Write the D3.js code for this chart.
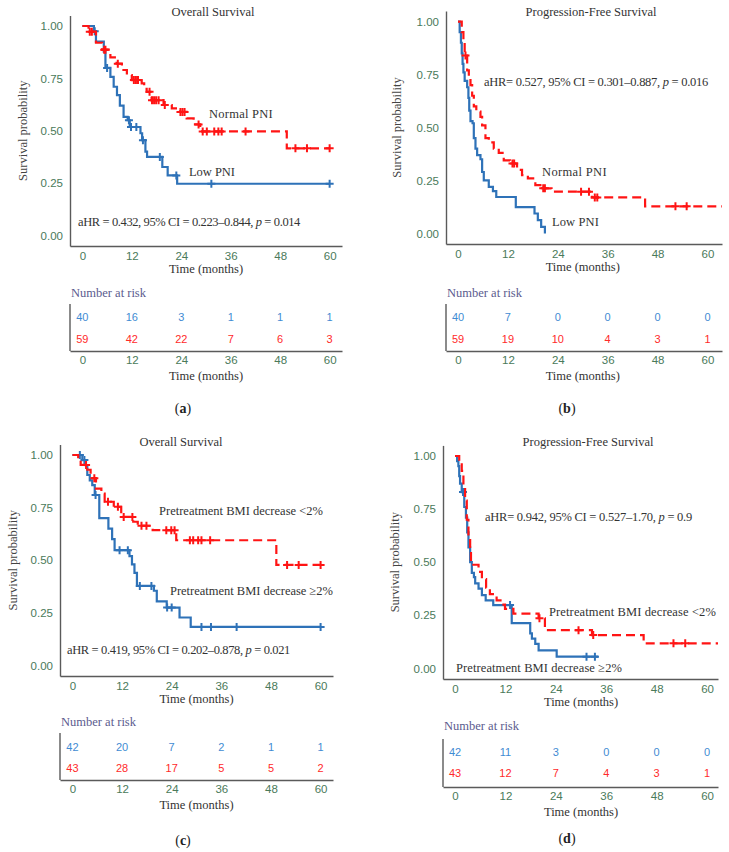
<!DOCTYPE html>
<html><head><meta charset="utf-8">
<script src="https://cdn.jsdelivr.net/npm/d3@7"></script>
<style>body{margin:0;background:#fff} svg{display:block}</style>
</head><body>
<svg id="chart" width="729" height="852"></svg>
<script>
// ---------- shared ticks ----------
const timeTicks = [0, 12, 24, 36, 48, 60];
const survTicks = [0, 0.25, 0.5, 0.75, 1];

// ---------- (a) Overall survival by PNI ----------
const aLowT = [2.8, 3.3, 5.2, 5.6, 6.8, 7.6, 8.4, 9.1, 10.0, 11.0, 11.5, 14.1, 14.5, 15.3, 15.7, 19.4, 20.7, 23.0];
const aLowS = [0.975, 0.925, 0.877, 0.80, 0.757, 0.71, 0.67, 0.62, 0.566, 0.55, 0.518, 0.488, 0.455, 0.40, 0.375, 0.327, 0.287, 0.247];
const aLowCens = [3.0, 6.0, 11.3, 11.8, 13.1, 14.7, 18.8, 22.8, 31.3, 60];
const aNormT = [1.5, 3.3, 4.8, 6.8, 8.3, 9.6, 10.8, 12.0, 14.4, 15.0, 15.6, 16.8, 19.7, 21.7, 23.7, 25.3, 27.0, 28.6, 49.6];
const aNormS = [0.973, 0.92, 0.887, 0.85, 0.82, 0.79, 0.766, 0.742, 0.726, 0.70, 0.686, 0.646, 0.623, 0.607, 0.59, 0.559, 0.53, 0.497, 0.416];
const aNormCens = [1.8, 2.3, 5.3, 5.6, 8.6, 12.5, 13.0, 13.5, 16.3, 16.9, 17.4, 17.9, 18.5, 20.0, 23.8, 24.3, 24.8, 28.2, 29.2, 30.2, 32.0, 33.0, 33.8, 39.6, 51.7, 54.5, 60];
const aRiskLow = [40, 16, 3, 1, 1, 1];
const aRiskNorm = [59, 42, 22, 7, 6, 3];

// ---------- (b) Progression-free survival by PNI ----------
const bLowT = [0.4, 0.7, 0.9, 1.1, 1.3, 1.6, 2.2, 2.5, 2.7, 3.0, 3.5, 3.8, 4.2, 4.6, 5.4, 5.8, 6.2, 7.4, 8.4, 9.2, 13.9, 18.4, 19.2, 20.0, 20.9];
const bLowS = [0.95, 0.90, 0.85, 0.80, 0.76, 0.72, 0.69, 0.64, 0.58, 0.53, 0.52, 0.45, 0.40, 0.37, 0.35, 0.29, 0.25, 0.22, 0.20, 0.172, 0.124, 0.094, 0.063, 0.031, 0];
const bLowCens = [];
const bNormT = [0.9, 1.3, 1.6, 2.2, 2.6, 3.0, 3.4, 3.8, 4.4, 5.4, 5.8, 6.6, 7.4, 8.6, 9.8, 11.0, 12.5, 14.2, 15.4, 16.8, 18.6, 20.1, 22.5, 32.2, 45.0];
const bNormS = [0.95, 0.90, 0.84, 0.77, 0.74, 0.70, 0.65, 0.60, 0.575, 0.55, 0.51, 0.45, 0.43, 0.40, 0.38, 0.345, 0.33, 0.30, 0.275, 0.26, 0.228, 0.213, 0.197, 0.17, 0.128];
const bNormCens = [1.8, 13.1, 13.5, 20.5, 20.9, 29.6, 31.5, 32.9, 33.5, 52.3, 55.0];
const bRiskLow = [40, 7, 0, 0, 0, 0];
const bRiskNorm = [59, 19, 10, 4, 3, 1];

// ---------- (c) Overall survival by pretreatment BMI decrease ----------
const cHighT = [2.4, 3.2, 3.6, 4.2, 4.8, 5.4, 6.5, 8.7, 9.6, 10.2, 13.8, 14.4, 15.0, 15.6, 19.7, 20.4, 22.8, 25.9, 28.6];
const cHighS = [0.976, 0.952, 0.905, 0.88, 0.857, 0.81, 0.70, 0.65, 0.60, 0.548, 0.52, 0.48, 0.44, 0.378, 0.355, 0.305, 0.275, 0.228, 0.183];
const cHighCens = [1.8, 2.9, 5.6, 11.4, 13.4, 16.3, 19.1, 22.9, 24.0, 31.2, 33.5, 39.7, 60];
const cLowT = [1.4, 2.0, 3.6, 4.4, 5.7, 7.0, 7.8, 10.0, 11.8, 14.7, 15.8, 19.4, 25.1, 49.3];
const cLowS = [0.977, 0.953, 0.93, 0.89, 0.84, 0.817, 0.778, 0.754, 0.706, 0.683, 0.664, 0.643, 0.595, 0.478];
const cLowCens = [3.3, 5.3, 8.6, 11.0, 12.4, 14.5, 16.7, 17.9, 22.7, 23.9, 24.7, 28.4, 29.2, 30.4, 31.2, 33.3, 51.9, 54.7, 60];
const cRiskHigh = [42, 20, 7, 2, 1, 1];
const cRiskLow = [43, 28, 17, 5, 5, 2];

// ---------- (d) Progression-free survival by pretreatment BMI decrease ----------
const dHighT = [0.5, 0.8, 1.0, 1.2, 1.6, 2.2, 2.6, 2.9, 3.2, 3.6, 4.0, 4.5, 4.8, 5.6, 6.4, 7.3, 9.1, 13.5, 17.9, 18.3, 19.1, 19.9, 24.2];
const dHighS = [0.976, 0.952, 0.905, 0.87, 0.83, 0.76, 0.71, 0.64, 0.57, 0.50, 0.45, 0.43, 0.40, 0.376, 0.345, 0.32, 0.298, 0.213, 0.165, 0.14, 0.115, 0.085, 0.055];
const dHighCens = [1.9, 13.1, 31.3, 33.3];
const dLowT = [1.0, 1.6, 2.0, 2.4, 2.8, 3.2, 3.6, 3.8, 5.6, 6.4, 7.4, 8.3, 9.9, 11.1, 11.9, 13.9, 19.9, 21.4, 32.6, 44.9];
const dLowS = [0.977, 0.93, 0.86, 0.79, 0.70, 0.62, 0.56, 0.488, 0.454, 0.42, 0.38, 0.35, 0.32, 0.30, 0.28, 0.258, 0.236, 0.18, 0.157, 0.118];
const dLowCens = [20.1, 29.4, 32.9, 52.0, 54.8];
const dRiskHigh = [42, 11, 3, 0, 0, 0];
const dRiskLow = [43, 12, 7, 4, 3, 1];

// ---------- styling ----------
const BLUE = "#2e72b8", RED = "#ff1414";
const RISK_BLUE = "#3f8bd3", RISK_RED = "#ff2a2a";
const TICK_COL = "#4a7a5a", AXIS_COL = "#5a5a5a";
const SERIF = "'Liberation Serif','DejaVu Serif',serif";
const SANS = "'Liberation Sans',Arial,sans-serif";

const panels = [
  { letter: "a", title: "Overall Survival", titleX: 213, titleY: 12,
    left: 70, right: 342, top: 15.5, bottom: 246, xDom: [-3, 63], ylabX: 23,
    series: [
      { t: aLowT, s: aLowS, cens: aLowCens, end: 60, col: BLUE, dash: null },
      { t: aNormT, s: aNormS, cens: aNormCens, end: 60, col: RED, dash: "9,5" } ],
    risk: [aRiskLow, aRiskNorm], narY: 293, rTop: 304, rBot: 351, row1: 317, row2: 339, letX: 183, letY: 408,
    notes: [ { x: 209, y: 114, w: 64, txt: ["Normal PNI"] }, { x: 189, y: 172, w: 46, txt: ["Low PNI"] },
             { x: 78, y: 222, w: 222, txt: ["aHR = 0.432, 95% CI = 0.223–0.844, ", "p", " = 0.014"] } ] },
  { letter: "b", title: "Progression-Free Survival", titleX: 591, titleY: 12,
    left: 446, right: 722, top: 11, bottom: 244, xDom: [-2.89, 63.5], ylabX: 397,
    series: [
      { t: bLowT, s: bLowS, cens: bLowCens, end: 20.9, col: BLUE, dash: null },
      { t: bNormT, s: bNormS, cens: bNormCens, end: 63.5, col: RED, dash: "9,5" } ],
    risk: [bRiskLow, bRiskNorm], narY: 293, rTop: 304, rBot: 351, row1: 317, row2: 339, letX: 567, letY: 408,
    notes: [ { x: 484, y: 82, w: 224, txt: ["aHR= 0.527, 95% CI = 0.301–0.887, ", "p", " = 0.016"] },
             { x: 542, y: 172, w: 65, txt: ["Normal PNI"] }, { x: 552, y: 222, w: 47, txt: ["Low PNI"] } ] },
  { letter: "c", title: "Overall Survival", titleX: 181, titleY: 442,
    left: 60, right: 333, top: 444.5, bottom: 676, xDom: [-3, 63], ylabX: 13,
    series: [
      { t: cHighT, s: cHighS, cens: cHighCens, end: 60, col: BLUE, dash: null },
      { t: cLowT, s: cLowS, cens: cLowCens, end: 60, col: RED, dash: "9,5" } ],
    risk: [cRiskHigh, cRiskLow], narY: 722, rTop: 733, rBot: 780, row1: 747, row2: 768, letX: 183, letY: 840,
    notes: [ { x: 159, y: 511, w: 164, txt: ["Pretreatment BMI decrease <2%"] },
             { x: 170, y: 591, w: 163, txt: ["Pretreatment BMI decrease ≥2%"] },
             { x: 67, y: 650, w: 223, txt: ["aHR = 0.419, 95% CI = 0.202–0.878, ", "p", " = 0.021"] } ] },
  { letter: "d", title: "Progression-Free Survival", titleX: 588, titleY: 442,
    left: 443, right: 718, top: 445.4, bottom: 679, xDom: [-2.86, 62.6], ylabX: 395,
    series: [
      { t: dHighT, s: dHighS, cens: dHighCens, end: 34.1, col: BLUE, dash: null },
      { t: dLowT, s: dLowS, cens: dLowCens, end: 62.6, col: RED, dash: "9,5" } ],
    risk: [dRiskHigh, dRiskLow], narY: 726, rTop: 739, rBot: 787, row1: 752, row2: 773, letX: 567, letY: 838,
    notes: [ { x: 485, y: 517, w: 207, txt: ["aHR= 0.942, 95% CI = 0.527–1.70, ", "p", " = 0.9"] },
             { x: 549, y: 612, w: 167, txt: ["Pretreatment BMI decrease <2%"] },
             { x: 456, y: 668, w: 166, txt: ["Pretreatment BMI decrease ≥2%"] } ] }
];

const svg = d3.select("#chart");

function survAt(t, times, surv) {
  let v = 1;
  for (let i = 0; i < times.length; i++) if (times[i] <= t) v = surv[i];
  return v;
}

function styleAxis(g) {
  g.select(".domain").attr("stroke", AXIS_COL).attr("stroke-width", 1.4);
  g.selectAll(".tick line").remove();
  g.selectAll(".tick text").attr("fill", TICK_COL).attr("font-family", SANS).attr("font-size", "11.5px");
}

function fitWidth(sel, w) {
  const node = sel.node();
  const len = node.getComputedTextLength();
  const n = node.textContent.length;
  if (len > 0 && n > 1) sel.attr("letter-spacing", ((w - len) / n).toFixed(3) + "px");
}

panels.forEach(p => {
  const x = d3.scaleLinear().domain(p.xDom).range([p.left, p.right]);
  const y = d3.scaleLinear().domain([-0.05, 1.05]).range([p.bottom, p.top]);
  const g = svg.append("g");

  // axes
  g.append("g").attr("transform", `translate(0,${p.bottom})`)
    .call(d3.axisBottom(x).tickValues(timeTicks).tickSize(0).tickSizeOuter(0).tickPadding(6))
    .call(styleAxis);
  g.append("g").attr("transform", `translate(${p.left},0)`)
    .call(d3.axisLeft(y).tickValues(survTicks).tickFormat(d3.format(".2f")).tickSize(0).tickSizeOuter(0).tickPadding(7))
    .call(styleAxis);

  // title & labels
  g.append("text").attr("x", p.titleX).attr("y", p.titleY).attr("dy", "0.35em")
    .attr("text-anchor", "middle").attr("font-family", SERIF).attr("font-size", "12.5px").attr("fill", "#333")
    .text(p.title);
  g.append("text").attr("x", (x(0) + x(60)) / 2).attr("y", p.bottom + 23).attr("dy", "0.35em")
    .attr("text-anchor", "middle").attr("font-family", SERIF).attr("font-size", "12.5px").attr("fill", "#333")
    .text("Time (months)");
  g.append("text").attr("transform", `translate(${p.ylabX},${(y(0) + y(1)) / 2}) rotate(-90)`)
    .attr("dy", "0.35em").attr("text-anchor", "middle").attr("font-family", SERIF).attr("font-size", "12.5px")
    .attr("fill", "#444").text("Survival probability");

  // curves
  p.series.forEach(se => {
    const pts = [[0, 1]].concat(se.t.map((t, i) => [t, se.s[i]]));
    pts.push([se.end, se.s[se.s.length - 1]]);
    const line = d3.line().x(d => x(d[0])).y(d => y(d[1])).curve(d3.curveStepAfter);
    g.append("path").attr("d", line(pts)).attr("fill", "none").attr("stroke", se.col)
      .attr("stroke-width", 2.2).attr("stroke-dasharray", se.dash);
    g.selectAll(null).data(se.cens).enter().append("path")
      .attr("transform", c => `translate(${x(c)},${y(survAt(c, se.t, se.s))})`)
      .attr("d", "M-4,0H4M0,-4V4").attr("stroke", se.col).attr("stroke-width", 2).attr("fill", "none");
  });

  // notes
  p.notes.forEach(n => {
    const tx = g.append("text").attr("x", n.x).attr("y", n.y).attr("dy", "0.35em")
      .attr("font-family", SERIF).attr("font-size", "12.5px").attr("fill", "#333");
    n.txt.forEach((s, i) => tx.append("tspan").attr("font-style", (n.txt.length > 1 && i === 1) ? "italic" : "normal").text(s));
    fitWidth(tx, n.w);
  });

  // risk table
  g.append("text").attr("x", p.left + 1).attr("y", p.narY).attr("dy", "0.35em")
    .attr("font-family", SERIF).attr("font-size", "12.5px").attr("fill", "#5b5b8e").text("Number at risk");
  g.append("line").attr("x1", p.left).attr("x2", p.left).attr("y1", p.rTop).attr("y2", p.rBot)
    .attr("stroke", AXIS_COL).attr("stroke-width", 1.4);
  g.append("g").attr("transform", `translate(0,${p.rBot})`)
    .call(d3.axisBottom(x).tickValues(timeTicks).tickSize(0).tickSizeOuter(0).tickPadding(5))
    .call(styleAxis);
  g.append("text").attr("x", (x(0) + x(60)) / 2).attr("y", p.rBot + 25).attr("dy", "0.35em")
    .attr("text-anchor", "middle").attr("font-family", SERIF).attr("font-size", "12.5px").attr("fill", "#333")
    .text("Time (months)");
  [[p.risk[0], p.row1, RISK_BLUE], [p.risk[1], p.row2, RISK_RED]].forEach(([vals, ry, col]) => {
    g.selectAll(null).data(vals).enter().append("text")
      .attr("x", (d, i) => x(timeTicks[i])).attr("y", ry).attr("dy", "0.35em")
      .attr("text-anchor", "middle").attr("font-family", SANS).attr("font-size", "11px").attr("fill", col)
      .text(d => d);
  });

  // panel letter
  const lt = g.append("text").attr("x", p.letX).attr("y", p.letY).attr("dy", "0.35em")
    .attr("text-anchor", "middle").attr("font-family", SERIF).attr("font-size", "14px").attr("fill", "#222");
  lt.append("tspan").text("(");
  lt.append("tspan").attr("font-weight", "bold").text(p.letter);
  lt.append("tspan").text(")");
});
</script>
</body></html>
